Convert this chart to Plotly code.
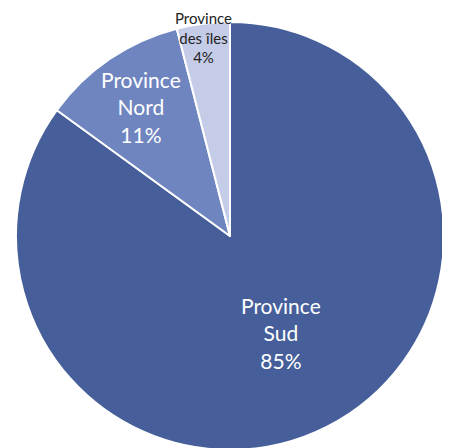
import plotly.graph_objects as go

labels = ["Province Sud", "Province Nord", "Province des îles"]
values = [85, 11, 4]
colors = ["#465F9B", "#6F85C0", "#C4CCE7"]
label_text = ["Province<br>Sud<br>85%", "Province<br>Nord<br>11%", "Province<br>des îles<br>4%"]

W, H = 450, 448
OFF = 8  # page body margin offset

fig = go.Figure()
fig.add_trace(go.Pie(
    labels=labels,
    values=values,
    sort=False,
    direction="clockwise",
    rotation=0,
    marker=dict(colors=colors, line=dict(color="white", width=2)),
    textinfo="none",
    hoverinfo="label+percent",
    showlegend=False,
    domain=dict(x=[(16 - OFF) / W, (444 - OFF) / W], y=[6 / H, 434 / H]),
))

font_family = "Lato, 'Open Sans', sans-serif"
ann_pos = [(281, 333, 21, "white"), (141, 107, 21, "white"), (203, 38, 15, "#222222")]
for txt, (x, y, size, col) in zip(label_text, ann_pos):
    fig.add_annotation(
        x=(x - OFF) / W, y=1 - (y - OFF) / H, xref="paper", yref="paper",
        text=txt, showarrow=False, xanchor="center", yanchor="middle",
        font=dict(family=font_family, size=size, color=col),
        align="center",
    )

fig.update_layout(
    width=W, height=H,
    margin=dict(l=0, r=0, t=0, b=0),
    paper_bgcolor="white",
    plot_bgcolor="white",
)

fig.write_html("out.html")
